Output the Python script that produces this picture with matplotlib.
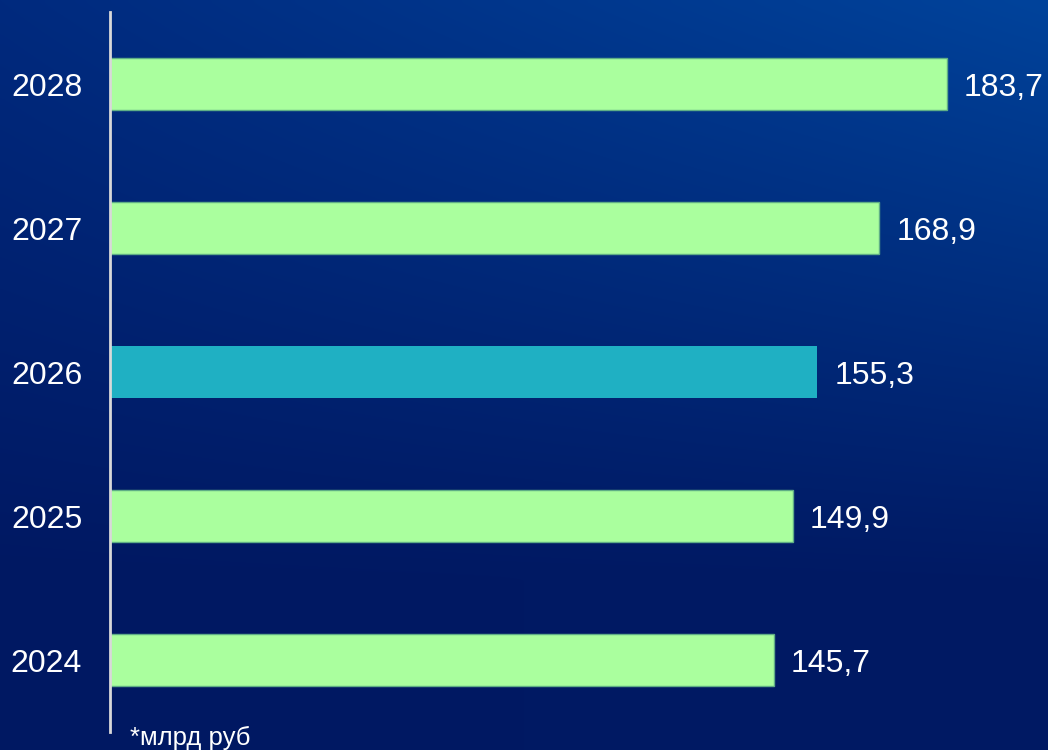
import matplotlib

matplotlib.use("Agg")
import matplotlib.pyplot as plt
import numpy as np
from matplotlib.colors import to_rgb

years = ["2024", "2025", "2026", "2027", "2028"]
values = [145.7, 149.9, 155.3, 168.9, 183.7]
value_labels = ["145,7", "149,9", "155,3", "168,9", "183,7"]
highlight = "2026"

GREEN = "#AAFF9E"
TEAL = "#1FB0C3"

plt.rcParams["font.family"] = ["Liberation Sans", "DejaVu Sans"]

fig = plt.figure(figsize=(10.48, 7.5), dpi=100)

# background gradient: lighter blue top-right, dark navy bottom
bg = fig.add_axes([0, 0, 1, 1], zorder=0)
h, w = 150, 210
yy, xx = np.mgrid[0:1:h * 1j, 0:1:w * 1j]
tl, tr = np.array(to_rgb("#002a7e")), np.array(to_rgb("#00439b"))
bl, br = np.array(to_rgb("#001862")), np.array(to_rgb("#001a64"))
top = tl[None, None, :] * (1 - xx[..., None]) + tr[None, None, :] * xx[..., None]
bot = bl[None, None, :] * (1 - xx[..., None]) + br[None, None, :] * xx[..., None]
t = np.clip(yy * 1.3, 0, 1)[..., None]
img = top * (1 - t) + bot * t
bg.imshow(img, aspect="auto", extent=[0, 1, 1, 0], interpolation="bicubic")
bg.axis("off")

ax = fig.add_axes([110 / 1048, 18 / 750, 938 / 1048, 720 / 750], zorder=1)
ax.patch.set_alpha(0)
y = np.arange(len(years))
colors = [TEAL if yr == highlight else GREEN for yr in years]
edges = ["none" if yr == highlight else "#5fae86" for yr in years]
ax.barh(y, values, height=0.355, color=colors, edgecolor=edges, linewidth=1)

for yi, v, lab in zip(y, values, value_labels):
    ax.text(v + 3.7, yi, lab, va="center_baseline", ha="left", color="white", fontsize=23)

ax.set_xlim(0, 205.9)
ax.set_ylim(-0.5, 4.5)
ax.set_yticks(y)
ax.set_yticklabels(years, fontsize=23, color="white", va="center_baseline")
ax.tick_params(axis="y", length=0, pad=20)
ax.set_xticks([])
for side in ["top", "right", "bottom"]:
    ax.spines[side].set_visible(False)
ax.spines["left"].set_color("#d9d9d9")
ax.spines["left"].set_linewidth(2)

fig.text(130 / 1048, 1 - 738 / 750, "*млрд руб", color="white", fontsize=18.5,
         ha="left", va="center")

fig.savefig("out.png", dpi=100)
